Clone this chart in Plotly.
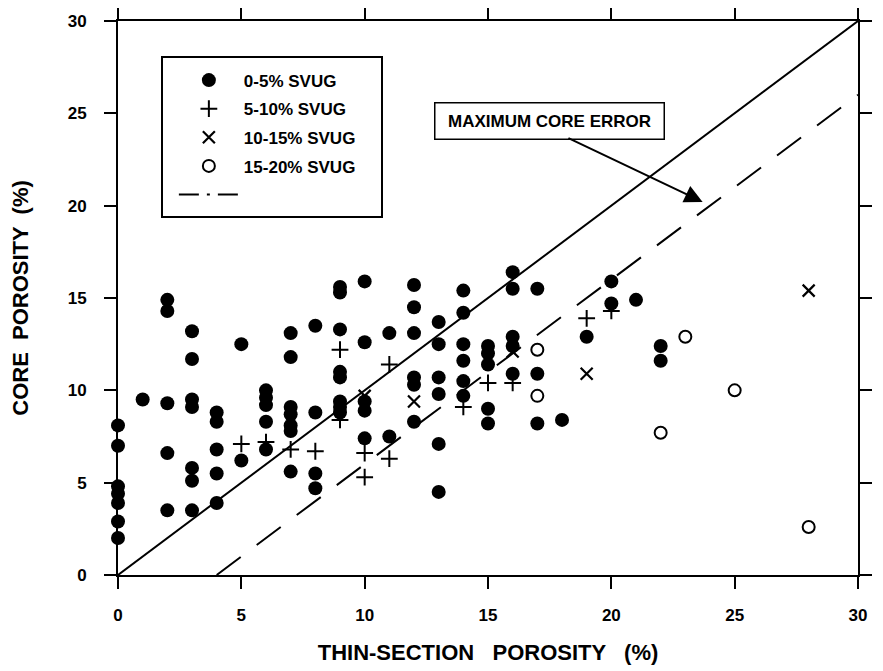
#######
# Core porosity vs thin-section porosity, grouped by SVUG class,
# with the 1:1 line and the maximum core error line.
#######

import plotly.graph_objs as go

# 0-5% SVUG (filled dots)
dot_x = [0, 0, 0, 0, 0, 0, 0,
         1,
         2, 2, 2, 2, 2,
         3, 3, 3, 3, 3, 3, 3,
         4, 4, 4, 4, 4,
         5, 5,
         6, 6, 6, 6, 6,
         7, 7, 7, 7, 7, 7, 7,
         8, 8, 8, 8,
         9, 9, 9, 9, 9, 9, 9, 9,
         10, 10, 10, 10, 10,
         11, 11,
         12, 12, 12, 12, 12, 12,
         13, 13, 13, 13, 13, 13,
         14, 14, 14, 14, 14, 14,
         15, 15, 15, 15, 15,
         16, 16, 16, 16, 16,
         17, 17, 17,
         18, 19, 20, 20, 21, 22, 22]
dot_y = [8.1, 7.0, 4.8, 4.4, 3.9, 2.9, 2.0,
         9.5,
         14.9, 14.3, 9.3, 6.6, 3.5,
         13.2, 11.7, 9.5, 9.1, 5.8, 5.1, 3.5,
         8.8, 8.3, 6.8, 5.5, 3.9,
         12.5, 6.2,
         10.0, 9.6, 9.2, 8.3, 6.8,
         13.1, 11.8, 9.1, 8.7, 8.1, 7.8, 5.6,
         13.5, 8.8, 5.5, 4.7,
         15.6, 15.3, 13.3, 11.0, 10.7, 9.4, 9.1, 8.8,
         15.9, 12.6, 9.4, 8.9, 7.4,
         13.1, 7.5,
         15.7, 14.5, 13.1, 10.7, 10.3, 8.3,
         13.7, 12.5, 10.7, 9.8, 7.1, 4.5,
         15.4, 14.2, 12.5, 11.6, 10.5, 9.7,
         12.4, 12.0, 11.4, 9.0, 8.2,
         16.4, 15.5, 12.9, 12.4, 10.9,
         15.5, 10.9, 8.2,
         8.4, 12.9, 15.9, 14.7, 14.9, 12.4, 11.6]

# 5-10% SVUG (plus)
plus_x = [5, 6, 7, 8, 9, 9, 10, 10, 11, 11, 14, 15, 16, 19, 20]
plus_y = [7.1, 7.2, 6.8, 6.7, 12.2, 8.4, 6.6, 5.3, 11.4, 6.3, 9.1, 10.4, 10.4, 13.9, 14.3]

# 10-15% SVUG (x)
cross_x = [10, 12, 16, 19, 28]
cross_y = [9.7, 9.4, 12.1, 10.9, 15.4]

# 15-20% SVUG (open circles)
open_x = [17, 17, 22, 23, 25, 28]
open_y = [12.2, 9.7, 7.7, 12.9, 10.0, 2.6]

# reference lines
line_x = [0, 30]
line_y = [0, 30]
err_x = [4, 30]
err_y = [0, 26]

FONT = 'Liberation Sans, Arial, sans-serif'

data = [
    go.Scatter(x=line_x, y=line_y, mode='lines', showlegend=False,
               line=dict(color='black', width=2)),
    go.Scatter(x=err_x, y=err_y, mode='lines', showlegend=False,
               line=dict(color='black', width=2, dash='30px,20px')),
    go.Scatter(x=dot_x, y=dot_y, mode='markers', name='0-5% SVUG',
               legendgroup='a', cliponaxis=False,
               marker=dict(symbol='circle', size=14, color='black')),
    go.Scatter(x=plus_x, y=plus_y, mode='markers', name='5-10% SVUG',
               legendgroup='b', cliponaxis=False,
               marker=dict(symbol='cross-thin', size=12,
                           line=dict(color='black', width=2))),
    go.Scatter(x=cross_x, y=cross_y, mode='markers', name='10-15% SVUG',
               legendgroup='c', cliponaxis=False,
               marker=dict(symbol='x-thin', size=12,
                           line=dict(color='black', width=2.2))),
    go.Scatter(x=open_x, y=open_y, mode='markers', name='15-20% SVUG',
               legendgroup='d', cliponaxis=False,
               marker=dict(symbol='circle-open', size=12, color='black',
                           line=dict(width=2))),
    # legend-only entry for the line key
    go.Scatter(x=[None], y=[None], mode='lines', name='', legendgroup='e',
               line=dict(color='black', width=2, dash='20px,8px,3px,8px')),
]

axis_style = dict(
    range=[0, 30], dtick=5, showgrid=False, zeroline=False, automargin=False,
    ticks='outside', ticklen=12, tickwidth=2, tickcolor='black',
    showline=True, linecolor='black', linewidth=2, mirror='ticks',
    tickfont=dict(family=FONT, size=17, color='black', weight='bold'),
)

# the page adds an 8px body margin, so the margins are offset by it
layout = go.Layout(
    width=883, height=671,
    margin=dict(l=110, r=33, t=13, b=104),
    plot_bgcolor='white', paper_bgcolor='white',
    xaxis=dict(axis_style, ticklabelstandoff=12,
               title=dict(text='THIN-SECTION   POROSITY   (%)', standoff=20,
                          font=dict(family=FONT, size=22, color='black', weight='bold'))),
    yaxis=dict(axis_style, ticklabelstandoff=14,
               title=dict(text='CORE  POROSITY  (%)', standoff=34,
                          font=dict(family=FONT, size=22, color='black', weight='bold'))),
    legend=dict(x=0.0755, y=0.925, xanchor='left', yanchor='top',
                bgcolor='rgba(0,0,0,0)', borderwidth=0,
                itemwidth=60, tracegroupgap=3.5, traceorder='grouped',
                font=dict(family=FONT, size=17, color='black', weight='bold')),
    shapes=[dict(type='rect', xref='paper', yref='paper',
                 x0=(162 - 118) / 740, x1=(382 - 118) / 740,
                 y0=1 - (217 - 21) / 554, y1=1 - (57 - 21) / 554,
                 line=dict(color='black', width=2))],
    annotations=[
        dict(x=17.5, y=24.6, text='MAXIMUM CORE ERROR', showarrow=False,
             width=226, height=33, bordercolor='black', borderwidth=1.5,
             bgcolor='white',
             font=dict(family=FONT, size=17, color='black', weight='bold')),
        dict(x=23.7, y=20.2, ax=18.2, ay=23.7, axref='x', ayref='y',
             text='', showarrow=True, arrowhead=2, arrowsize=1.8,
             arrowwidth=2, arrowcolor='black'),
    ],
)

fig = go.Figure(data=data, layout=layout)
fig.write_html('out.html')
